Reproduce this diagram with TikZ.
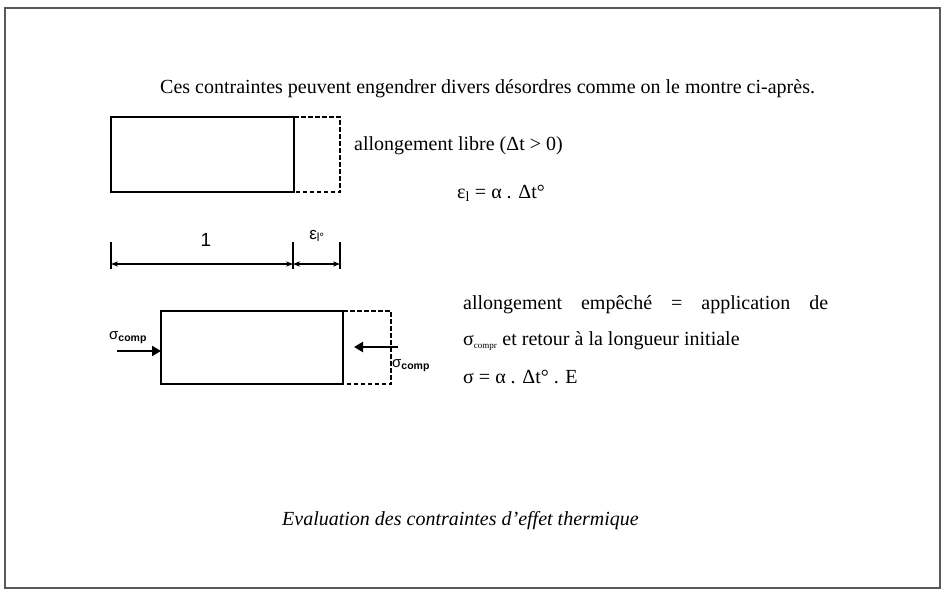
\documentclass[tikz,border=0pt]{standalone}
\usepackage{fontspec}
\setmainfont{Liberation Serif}
\setsansfont{Liberation Sans}
\usetikzlibrary{arrows.meta}
\begin{document}
\begin{tikzpicture}[
  x=1pt, y=-1pt,
  font=\fontsize{20}{24}\selectfont,
  bar/.style={draw, line width=1.8pt, inner sep=0pt, outer sep=0pt},
  ext/.style={draw, line width=1.4pt, dash pattern=on 4.5pt off 2.5pt},
  txt/.style={anchor=base west, inner sep=0pt},
  push/.style={line width=2.8pt, -{Triangle[length=9pt,width=10pt]}},
  dim/.style={line width=1.1pt, {Stealth[length=7pt]}-{Stealth[length=7pt]}},
  lbl/.style={font=\sffamily\fontsize{15}{18}\selectfont, inner sep=0pt}
]
\useasboundingbox (0,0) rectangle (942,592);
\draw[line width=2pt, black!65] (5,8) rectangle (940,588);

\node[txt] (intro) at (160,93) {Ces contraintes peuvent engendrer divers désordres comme on le montre ci-après.};

% free expansion
\node[bar, minimum width=183pt, minimum height=75pt] (free) at (202.5,154.5) {};
\draw[ext] (free.north east) -- ++(46,0) -- ++(0,75) -- (free.south east);
\node[txt] (libre) at (354,150) {allongement libre (Δt > 0)};
\node[txt] (epsl) at (457,198) {ε\textsubscript{l} = α . Δt°};

% lengths
\coordinate (d0) at (111,264);
\coordinate (d1) at (293,264);
\coordinate (d2) at (340,264);
\foreach \c in {d0,d1,d2}
  \draw[line width=1.1pt] (\c) ++(0,-22) -- ++(0,27);
\draw[dim] (d0) -- (d1);
\draw[dim] (d1) -- (d2);
\node[lbl, font=\sffamily\fontsize{19}{22}\selectfont] (one) at (206,240) {1};
\node[lbl, font=\sffamily\fontsize{17}{20}\selectfont] (dl) at (317,236) {ε\textsubscript{l°}};

% blocked expansion
\node[bar, minimum width=182pt, minimum height=73pt] (held) at (252,347.5) {};
\draw[ext] (held.north east) -- ++(48,0) -- ++(0,73) -- (held.south east);
\coordinate (pl) at (117,351);
\coordinate (pr) at (398,347);
\draw[push] (pl) -- (pl -| held.west);
\draw[push] (pr) -- ++(-44,0) coordinate (pr1);
\node[lbl, anchor=south west] (sl) at (109,344) {σ\textsubscript{\textbf{comp}}};
\node[lbl, anchor=west] (sr) at (392,366) {σ\textsubscript{\textbf{comp}}};

\node[txt] (emp) at (463,309) {\makebox[365pt][s]{allongement\hfill empêché\hfill =\hfill application\hfill de}};
\node[txt] (ret) at (463,345) {σ\textsubscript{\fontsize{9}{10}\selectfont compr} et retour à la longueur initiale};
\node[txt] (sig) at (463,383) {σ = α . Δt° . E};

\node[txt, font=\fontsize{20}{24}\selectfont\itshape] (cap) at (282,525) {Evaluation des contraintes d'effet thermique};
\end{tikzpicture}
\end{document}
